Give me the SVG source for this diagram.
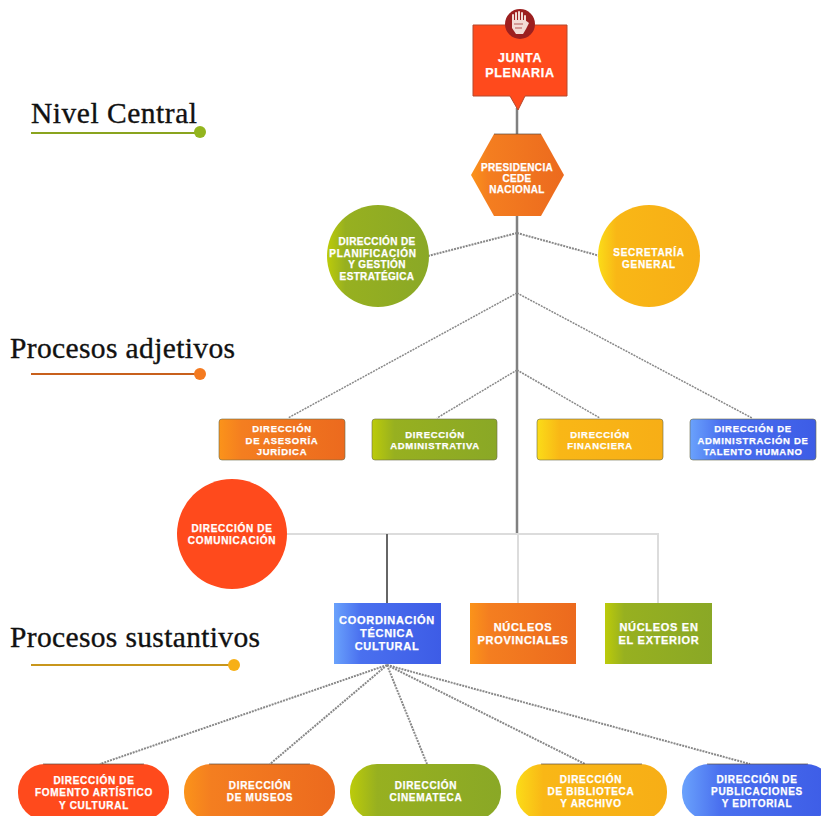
<svg xmlns="http://www.w3.org/2000/svg" width="821" height="816" viewBox="0 0 821 816">
<style>
.t{font-family:"Liberation Sans",Arial,sans-serif;font-weight:700;fill:#fff;stroke:#fff;stroke-width:.25;text-anchor:middle;letter-spacing:.7px}
.s9{font-size:9.5px}.s10{font-size:10px}.s11{font-size:11px}.s12{font-size:12.5px}
.n{letter-spacing:.35px}
.h{font-family:"Liberation Serif","Times New Roman",serif;fill:#111;stroke:#111;stroke-width:.35}
.solid{stroke:#808080;stroke-width:2.5;fill:none}
.light{stroke:#dcdcdc;stroke-width:2;fill:none}
.dot{stroke:#888;stroke-width:2;stroke-dasharray:2 1;fill:none}
.thin{stroke-width:1.5}
.edge{stroke:#6b6b4a;stroke-opacity:.6;stroke-width:1}
.top{stroke:#5a4a40;stroke-opacity:.7;stroke-width:1;fill:none}
</style>
<defs>
<linearGradient id="o"><stop offset="0" stop-color="#fb931a"/><stop offset=".18" stop-color="#f47e20"/><stop offset="1" stop-color="#ec6a1e"/></linearGradient>
<linearGradient id="g"><stop offset="0" stop-color="#bccb0a"/><stop offset=".18" stop-color="#97b020"/><stop offset="1" stop-color="#8aa826"/></linearGradient>
<linearGradient id="y"><stop offset="0" stop-color="#fbdc18"/><stop offset=".18" stop-color="#f9b716"/><stop offset="1" stop-color="#f7ae16"/></linearGradient>
<linearGradient id="b"><stop offset="0" stop-color="#6aa2fc"/><stop offset=".25" stop-color="#4a70ef"/><stop offset="1" stop-color="#3d5ce6"/></linearGradient>
</defs>

<g id="connectors">
<path class="solid" d="M517 108V534"/>
<path class="dot" d="M517 233L428 256M517 233L600 256"/>
<path class="dot thin" d="M517 293L288 418M517 293L752 418M517 370L437 418M517 370L600 418"/>
<path class="light" d="M287 534H658V603M518 534V603"/>
<path d="M387 534V603" stroke="#666" stroke-width="2" fill="none"/>
<path class="dot" d="M387 665L100 764M387 665L270 764M387 665L427 764M387 665L585 764M387 665L750 764"/>
</g>

<g id="label-nivel-central">
<text class="h" x="31" y="123" font-size="29.500" textLength="166">Nivel Central</text>
<path d="M31 133H198" stroke="#8aa41e" stroke-width="2"/><circle cx="200" cy="132" r="6" fill="#93b51e"/>
</g>
<g id="label-procesos-adjetivos">
<text class="h" x="10" y="358" font-size="29.500" textLength="225">Procesos adjetivos</text>
<path d="M31 374H198" stroke="#c8601c" stroke-width="2"/><circle cx="200" cy="374" r="6" fill="#f47a20"/>
</g>
<g id="label-procesos-sustantivos">
<text class="h" x="10" y="647" font-size="29.500" textLength="250">Procesos sustantivos</text>
<path d="M31 665H232" stroke="#c8961c" stroke-width="2"/><circle cx="234" cy="665" r="6" fill="#f7b016"/>
</g>

<g id="junta-plenaria">
<path d="M473 25H567V96H525L518 110L510 96H473Z" fill="#ff4a1c" stroke="#b5482c" stroke-width="1"/>
<circle cx="520" cy="24" r="15" fill="#9c1f1f"/>
<path d="M513 24V15M516 24V13M519 24V12M522 24V13M525 24V16" stroke="#f3dcd6" stroke-width="2" stroke-linecap="round" fill="none"/>
<path d="M512 20H525L529 23L526 29L523 34H516L512 28Z" fill="#f3dcd6"/>
<path d="M514 24H523M515 28H522" stroke="#9c1f1f" stroke-width=".7" fill="none"/>
<text class="t s12" x="520" y="62">JUNTA</text>
<text class="t s12" x="520" y="77">PLENARIA</text>
</g>
<g id="presidencia">
<path d="M471 175L494 134H541L564 175L541 216H494Z" fill="url(#o)"/>
<path class="top" d="M494 134H541"/>
<text class="t s10 n" x="517" y="171">PRESIDENCIA</text>
<text class="t s10 n" x="517" y="182">CEDE</text>
<text class="t s10 n" x="517" y="193">NACIONAL</text>
</g>
<g id="planificacion">
<circle cx="378" cy="256" r="51" fill="url(#g)"/>
<text class="t s10 n" x="377" y="245">DIRECCIÓN DE</text>
<text class="t s10" x="373" y="257">PLANIFICACIÓN</text>
<text class="t s10 n" x="377" y="268">Y GESTIÓN</text>
<text class="t s10 n" x="377" y="280">ESTRATÉGICA</text>
</g>
<g id="secretaria">
<circle cx="649" cy="256" r="51" fill="url(#y)"/>
<text class="t s10" x="649" y="256">SECRETARÍA</text>
<text class="t s10" x="649" y="268">GENERAL</text>
</g>

<g id="asesoria">
<rect class="edge" x="219" y="419" width="126" height="41" rx="3" fill="url(#o)"/>
<text class="t s9" x="282" y="432">DIRECCIÓN</text>
<text class="t s9" x="282" y="444">DE ASESORÍA</text>
<text class="t s9" x="282" y="455">JURÍDICA</text>
</g>
<g id="administrativa">
<rect class="edge" x="372" y="419" width="125" height="41" rx="3" fill="url(#g)"/>
<text class="t s9" x="435" y="438">DIRECCIÓN</text>
<text class="t s9" x="435" y="449">ADMINISTRATIVA</text>
</g>
<g id="financiera">
<rect class="edge" x="537" y="419" width="126" height="41" rx="3" fill="url(#y)"/>
<text class="t s9" x="600" y="438">DIRECCIÓN</text>
<text class="t s9" x="600" y="449">FINANCIERA</text>
</g>
<g id="talento-humano">
<rect class="edge" x="690" y="419" width="126" height="41" rx="3" fill="url(#b)"/>
<text class="t s9" x="753" y="432">DIRECCIÓN DE</text>
<text class="t s9" x="753" y="444">ADMINISTRACIÓN DE</text>
<text class="t s9" x="753" y="455">TALENTO HUMANO</text>
</g>

<g id="comunicacion">
<circle cx="232" cy="534" r="55" fill="#ff4a1c"/>
<text class="t s10" x="232" y="532">DIRECCIÓN DE</text>
<text class="t s10" x="232" y="544">COMUNICACIÓN</text>
</g>

<g id="coordinacion">
<rect x="334" y="603" width="107" height="61" fill="url(#b)"/>
<text class="t s11" x="387" y="624">COORDINACIÓN</text>
<text class="t s11" x="387" y="637">TÉCNICA</text>
<text class="t s11" x="387" y="650">CULTURAL</text>
</g>
<g id="nucleos-provinciales">
<rect x="470" y="603" width="106" height="61" fill="url(#o)"/>
<text class="t s11" x="523" y="631">NÚCLEOS</text>
<text class="t s11" x="523" y="644">PROVINCIALES</text>
</g>
<g id="nucleos-exterior">
<rect x="605" y="603" width="107" height="61" fill="url(#g)"/>
<text class="t s11" x="659" y="631">NÚCLEOS EN</text>
<text class="t s11" x="659" y="644">EL EXTERIOR</text>
</g>

<g id="fomento">
<rect x="18" y="764" width="151" height="56" rx="27" fill="#ff4a1c"/>
<path class="top" d="M43 764H144"/>
<text class="t s10" x="94" y="784">DIRECCIÓN DE</text>
<text class="t s10" x="94" y="796">FOMENTO ARTÍSTICO</text>
<text class="t s10" x="94" y="809">Y CULTURAL</text>
</g>
<g id="museos">
<rect x="184" y="764" width="151" height="56" rx="27" fill="url(#o)"/>
<path class="top" d="M209 764H310"/>
<text class="t s10" x="260" y="789">DIRECCIÓN</text>
<text class="t s10" x="260" y="801">DE MUSEOS</text>
</g>
<g id="cinemateca">
<rect x="350" y="764" width="151" height="56" rx="27" fill="url(#g)"/>
<text class="t s10" x="426" y="789">DIRECCIÓN</text>
<text class="t s10" x="426" y="801">CINEMATECA</text>
</g>
<g id="biblioteca">
<rect x="516" y="764" width="151" height="56" rx="27" fill="url(#y)"/>
<path class="top" d="M541 764H642"/>
<text class="t s10" x="591" y="783">DIRECCIÓN</text>
<text class="t s10" x="591" y="795">DE BIBLIOTECA</text>
<text class="t s10" x="591" y="807">Y ARCHIVO</text>
</g>
<g id="publicaciones">
<rect x="682" y="764" width="151" height="56" rx="27" fill="url(#b)"/>
<path class="top" d="M707 764H808"/>
<text class="t s10" x="757" y="783">DIRECCIÓN DE</text>
<text class="t s10" x="757" y="795">PUBLICACIONES</text>
<text class="t s10" x="757" y="807">Y EDITORIAL</text>
</g>
</svg>
